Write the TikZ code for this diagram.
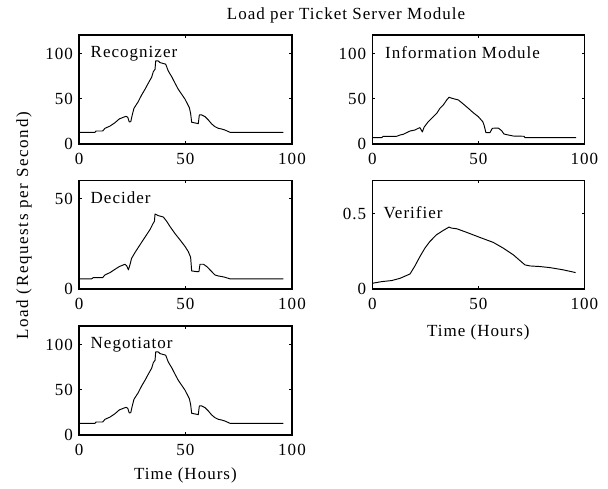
\documentclass[tikz,border=0pt]{standalone}
\usepackage{fontspec}
\setmainfont{Liberation Serif}[LetterSpace=6]
\newcommand\plotfont{\fontsize{17}{20}\selectfont}
% frame, inward ticks on all four sides and tick labels of one panel
% #1 = upper y limit, #2 = list of y ticks
\newcommand\panelframe[2]{%
  \draw[frame] (0,0) rectangle (100,#1);
  \foreach \t [count=\i] in {0,50,100}{%
    \draw[frame] (\t,0) -- ++(0pt,2.6pt);
    \draw[frame] (\t,#1) -- ++(0pt,-2.6pt);
    \node[xticklab] (xt\i) at (\t,0) {\t};
  }
  \foreach \t [count=\i] in {#2}{%
    \draw[frame] (0,\t) -- ++(2.6pt,0pt);
    \draw[frame] (100,\t) -- ++(-2.6pt,0pt);
    \node[yticklab] (yt\i) at (0,\t) {\t};
  }%
}
\begin{document}
\begin{tikzpicture}[x=1pt,y=-1pt,
  frame/.style={line width=1.1pt},
  curve/.style={line width=0.95pt,line join=round},
  xticklab/.style={anchor=base,inner sep=0pt,yshift=-20.5pt,font=\plotfont},
  yticklab/.style={anchor=base east,inner sep=0pt,xshift=-6pt,yshift=-5.8pt,font=\plotfont},
  paneltitle/.style={anchor=base west,inner sep=0pt,font=\plotfont},
  axlabel/.style={inner sep=0pt,font=\plotfont}]
\useasboundingbox[fill=white] (0,0) rectangle (608,488);

\node[axlabel,anchor=base] (title) at (346,19.3) {Load per Ticket Server Module};
\node[axlabel,anchor=base west,rotate=90] (ylabel) at (28,340)
  {\addfontfeature{LetterSpace=9.5}Load (Requests per Second)};

% Recognizer
\begin{scope}[name prefix=rec-,xshift=79pt,yshift=-144pt,x=2.13pt,y=0.908pt]
  \panelframe{120}{0,50,100}
  \node[paneltitle] (name) at (5.4,94.8) {Recognizer};
  \draw[curve] (0,12.9) -- (7.5,12.9) -- (8.0,14.3) -- (11.1,14.3) -- (12.2,17.3) -- (14.6,19.8)
    -- (16.9,23.5) -- (18.9,27.6) -- (20.8,29.4) -- (22.1,30.5) -- (22.9,29.4) -- (23.6,24.3)
    -- (24.3,24.6) -- (25.0,32.0) -- (25.8,39.3) -- (27.8,46.6) -- (29.4,54.0) -- (31.0,60.3)
    -- (32.5,66.9) -- (34.1,73.5) -- (34.9,79.7) -- (35.7,82.3) -- (36.0,91.5) -- (37.2,91.5)
    -- (38.0,89.7) -- (40.7,87.9) -- (41.9,80.5) -- (43.5,74.2) -- (45.1,66.9) -- (46.6,60.3)
    -- (48.2,54.8) -- (49.8,49.3) -- (51.8,40.0) -- (52.4,33.8) -- (52.9,23.9) -- (54.5,23.2)
    -- (56.0,22.4) -- (56.5,32.0) -- (57.6,32.0) -- (59.2,30.1) -- (60.7,26.5) -- (62.3,22.1)
    -- (63.8,19.1) -- (65.4,17.3) -- (67.0,16.5) -- (68.5,15.4) -- (70.9,12.9) -- (95.9,12.9);
\end{scope}

% Information Module
\begin{scope}[name prefix=inf-,xshift=372.3pt,yshift=-144pt,x=2.12pt,y=0.908pt]
  \panelframe{120}{0,50,100}
  \node[paneltitle] (name) at (6.0,94.5) {Information Module};
  \draw[curve] (0,7.0) -- (4.4,7.0) -- (5.2,8.5) -- (11.5,8.5) -- (13.1,9.9) -- (14.6,10.7)
    -- (16.2,12.5) -- (17.8,14.3) -- (20.1,15.4) -- (21.7,17.3) -- (22.5,18.0) -- (23.6,13.2)
    -- (24.4,18.4) -- (26.4,24.6) -- (28.0,28.3) -- (30.4,33.8) -- (31.9,39.3) -- (33.5,43.0)
    -- (35.1,48.5) -- (36.2,51.5) -- (37.5,50.4) -- (40.6,48.5) -- (42.9,44.1) -- (45.3,39.3)
    -- (47.6,34.5) -- (50.0,30.1) -- (52.1,24.6) -- (52.7,20.9) -- (53.6,12.5) -- (55.5,12.5)
    -- (56.6,17.3) -- (59.4,17.6) -- (61.0,14.7) -- (62.1,11.0) -- (64.2,9.9) -- (66.5,8.8)
    -- (71.6,8.5) -- (72.0,7.0) -- (96.1,7.0);
\end{scope}

% Decider
\begin{scope}[name prefix=dec-,xshift=79pt,yshift=-289pt,x=2.13pt,y=1.808pt]
  \panelframe{60}{0,50}
  \node[paneltitle] (name) at (5.4,47.4) {Decider};
  \draw[curve] (0,5.6) -- (5.9,5.6) -- (6.7,6.3) -- (11.1,6.3) -- (12.2,7.8) -- (14.6,9.1)
    -- (16.9,10.9) -- (18.9,12.4) -- (21.6,13.7) -- (22.4,12.8) -- (23.2,10.6) -- (23.9,13.3)
    -- (24.7,17.0) -- (26.3,20.2) -- (28.6,24.4) -- (31.0,28.7) -- (33.3,32.8) -- (34.9,36.5)
    -- (35.4,37.4) -- (35.7,41.5) -- (37.2,40.6) -- (39.6,39.8) -- (41.2,37.4) -- (42.7,34.6)
    -- (45.1,30.6) -- (47.4,27.2) -- (49.8,23.5) -- (51.3,20.7) -- (52.4,17.6) -- (52.9,10.0)
    -- (55.3,9.6) -- (56.3,9.6) -- (56.8,13.7) -- (58.4,13.7) -- (60.0,12.4) -- (61.5,10.6)
    -- (63.8,7.8) -- (65.4,7.2) -- (67.0,6.9) -- (68.5,6.5) -- (70.9,5.6) -- (95.9,5.6);
\end{scope}

% Verifier
\begin{scope}[name prefix=ver-,xshift=372.3pt,yshift=-289pt,x=2.12pt,y=150.7pt]
  \panelframe{0.72}{0,0.5}
  \node[paneltitle] (name) at (5.2,0.469) {Verifier};
  \draw[curve] (0,0.038) -- (4.4,0.049) -- (9.1,0.056) -- (13.1,0.071) -- (17.8,0.100)
    -- (20.1,0.153) -- (22.5,0.216) -- (24.8,0.271) -- (27.2,0.316) -- (30.3,0.360)
    -- (33.5,0.389) -- (36.2,0.411) -- (37.4,0.404) -- (39.8,0.400) -- (44.5,0.376)
    -- (50.8,0.342) -- (57.1,0.309) -- (61.8,0.271) -- (66.5,0.227) -- (72.0,0.160)
    -- (74.4,0.153) -- (79.1,0.149) -- (83.8,0.142) -- (90.1,0.127) -- (95.9,0.109);
  \node[axlabel,anchor=base] (xlabel) at (50,0) [yshift=-47.7pt] {Time (Hours)};
\end{scope}

% Negotiator
\begin{scope}[name prefix=neg-,xshift=79pt,yshift=-435pt,x=2.13pt,y=0.908pt]
  \panelframe{120}{0,50,100}
  \node[paneltitle] (name) at (5.4,95.5) {Negotiator};
  \draw[curve] (0,12.9) -- (7.5,12.9) -- (8.0,14.3) -- (11.1,14.3) -- (12.2,17.3) -- (14.6,19.8)
    -- (16.9,23.5) -- (18.9,27.6) -- (20.8,29.4) -- (22.1,30.5) -- (22.9,29.4) -- (23.6,24.3)
    -- (24.3,24.6) -- (25.0,32.0) -- (25.8,39.3) -- (27.8,46.6) -- (29.4,54.0) -- (31.0,60.3)
    -- (32.5,66.9) -- (34.1,73.5) -- (34.9,79.7) -- (35.7,82.3) -- (36.0,91.5) -- (37.2,91.5)
    -- (38.0,89.7) -- (40.7,87.9) -- (41.9,80.5) -- (43.5,74.2) -- (45.1,66.9) -- (46.6,60.3)
    -- (48.2,54.8) -- (49.8,49.3) -- (51.8,40.0) -- (52.4,33.8) -- (52.9,23.9) -- (54.5,23.2)
    -- (56.0,22.4) -- (56.5,32.0) -- (57.6,32.0) -- (59.2,30.1) -- (60.7,26.5) -- (62.3,22.1)
    -- (63.8,19.1) -- (65.4,17.3) -- (67.0,16.5) -- (68.5,15.4) -- (70.9,12.9) -- (95.9,12.9);
  \node[axlabel,anchor=base] (xlabel) at (50,0) [yshift=-44.5pt] {Time (Hours)};
\end{scope}
\end{tikzpicture}
\end{document}
